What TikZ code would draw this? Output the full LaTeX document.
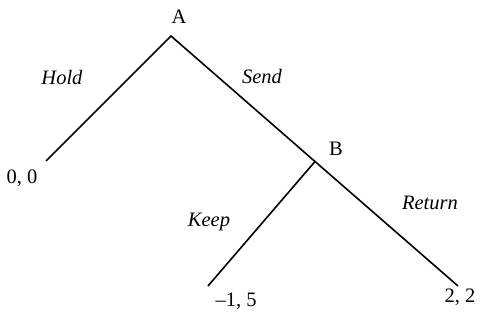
\documentclass[tikz,border=0pt]{standalone}
\usepackage{fontspec}
\setmainfont{Liberation Serif}
\begin{document}
\begin{tikzpicture}[x=1pt,y=-1pt,
  branch/.style={line width=1.6pt},
  lbl/.style={inner sep=0pt,font=\fontsize{20.5}{22}\selectfont},
  act/.style={lbl,font=\fontsize{20.5}{22}\selectfont\itshape}]
\useasboundingbox (0,0) rectangle (482,320);
% decision nodes and terminal points
\coordinate (A) at (171,36);
\coordinate (B) at (315,161.5);
\coordinate (hold) at (46,161);
\coordinate (keep) at (208,286);
\coordinate (ret) at (458,286);
% branches
\draw[branch] (hold) -- (A) -- (B) -- (ret);
\draw[branch] (B) -- (keep);
% player labels
\node[lbl] (la) at (179,17) {A};
\node[lbl] (lb) at (336,149) {B};
% action labels
\node[act] (lhold) at (62,77) {Hold};
\node[act] (lsend) at (262,76) {Send};
\node[act] (lkeep) at (209,222) {Keep};
\node[act] (lret) at (430,203) {Return};
% payoffs
\node[lbl] (p1) at (22,178) {0, 0};
\node[lbl] (p2) at (236,301) {–1, 5};
\node[lbl] (p3) at (460,297) {2, 2};
\end{tikzpicture}
\end{document}
